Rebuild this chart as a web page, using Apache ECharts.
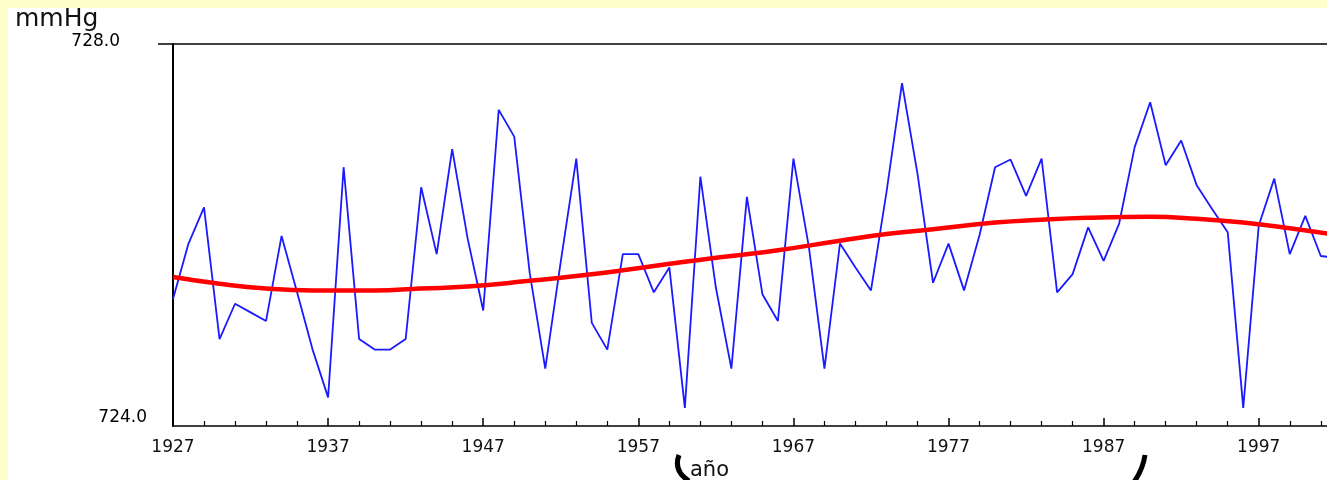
<!DOCTYPE html>
<html>
<head>
<meta charset="utf-8">
<title>Presión media anual</title>
<script src="https://cdn.jsdelivr.net/npm/echarts@6/dist/echarts.min.js"></script>
<style>
  html, body { margin: 0; padding: 0; background: #ffffcc; }
  #chart { width: 1327px; height: 480px; }
</style>
</head>
<body>
<div id="chart"></div>
<script>
// años y presión media anual (mmHg)
var years = [
  1927, 1928, 1929, 1930, 1931, 1932, 1933, 1934, 1935, 1936,
  1937, 1938, 1939, 1940, 1941, 1942, 1943, 1944, 1945, 1946,
  1947, 1948, 1949, 1950, 1951, 1952, 1953, 1954, 1955, 1956,
  1957, 1958, 1959, 1960, 1961, 1962, 1963, 1964, 1965, 1966,
  1967, 1968, 1969, 1970, 1971, 1972, 1973, 1974, 1975, 1976,
  1977, 1978, 1979, 1980, 1981, 1982, 1983, 1984, 1985, 1986,
  1987, 1988, 1989, 1990, 1991, 1992, 1993, 1994, 1995, 1996,
  1997, 1998, 1999, 2000, 2001, 2002
];
var presion = [
  725.33, 725.91, 726.29, 724.91, 725.28, 725.19, 725.10, 725.99, 725.40, 724.80,
  724.30, 726.71, 724.91, 724.80, 724.80, 724.91, 726.50, 725.80, 726.90, 725.96,
  725.21, 727.31, 727.03, 725.60, 724.60, 725.72, 726.80, 725.08, 724.80, 725.80,
  725.80, 725.40, 725.66, 724.19, 726.61, 725.45, 724.60, 726.40, 725.38, 725.10,
  726.80, 725.87, 724.60, 725.91, 725.66, 725.42, 726.45, 727.59, 726.64, 725.50,
  725.91, 725.42, 726.00, 726.71, 726.79, 726.41, 726.80, 725.40, 725.59, 726.08,
  725.73, 726.12, 726.92, 727.39, 726.73, 726.99, 726.52, 726.27, 726.03, 724.19,
  726.10, 726.59, 725.80, 726.20, 725.78, 725.76
];

// tendencia (curva roja)
var trendYears = [1927, 1930, 1933, 1936, 1940, 1943, 1946, 1950, 1953, 1956, 1960, 1963,
  1966, 1970, 1973, 1976, 1980, 1983, 1986, 1990, 1993, 1996, 1999, 2002];
var trendValues = [725.56, 725.49, 725.44, 725.42, 725.42, 725.44, 725.46, 725.52, 725.57, 725.63,
  725.72, 725.78, 725.84, 725.94, 726.01, 726.06, 726.13, 726.16, 726.18, 726.19, 726.17,
  726.13, 726.07, 726.00];

var majorTicks = [1927, 1937, 1947, 1957, 1967, 1977, 1987, 1997];
var yTicks = [724, 728];

var minorTicks = [];
for (var t = 1929; t <= 2001; t += 2) {
  if (majorTicks.indexOf(t) < 0) minorTicks.push(t);
}

var chart = echarts.init(document.getElementById('chart'));

var option = {
  backgroundColor: '#ffffcc',
  animation: false,
  textStyle: { fontFamily: 'DejaVu Sans', color: '#000' },
  title: [
    { text: 'mmHg', left: 15, top: 7, padding: 0,
      textStyle: { fontSize: 25, fontWeight: 'normal', color: '#111', fontFamily: 'DejaVu Sans' } },
    { text: 'año', left: 690, top: 460, padding: 0,
      textStyle: { fontSize: 21, fontWeight: 'normal', color: '#111', fontFamily: 'DejaVu Sans' } }
  ],
  graphic: [
    { type: 'rect', z: -1, silent: true,
      shape: { x: 8, y: 8, width: 1319, height: 472 },
      style: { fill: '#ffffff' } },
    { type: 'bezierCurve', silent: true,
      shape: { x1: 679, y1: 455, cpx1: 673, cpy1: 471, x2: 689, y2: 481 },
      style: { stroke: '#000', lineWidth: 5, fill: null } },
    { type: 'bezierCurve', silent: true,
      shape: { x1: 1145, y1: 455, cpx1: 1143, cpy1: 469, x2: 1134, y2: 482 },
      style: { stroke: '#000', lineWidth: 5, fill: null } }
  ],
  grid: { left: 173, right: 0, top: 44, bottom: 54, outerBoundsMode: 'none' },
  xAxis: [
    {
      type: 'value', min: 1927, max: 2001.4,
      axisLine: { show: true, lineStyle: { color: '#000', width: 1.5 } },
      axisTick: { show: true, inside: true, length: 8, customValues: majorTicks,
        lineStyle: { color: '#000', width: 1.5 } },
      axisLabel: { customValues: majorTicks, margin: 13, fontSize: 17, color: '#111',
        fontFamily: 'DejaVu Sans', formatter: function (v) { return String(v); } },
      splitLine: { show: false }
    },
    {
      type: 'value', min: 1927, max: 2001.4, position: 'bottom',
      axisLine: { show: false },
      axisTick: { show: true, inside: true, length: 5, customValues: minorTicks,
        lineStyle: { color: '#000', width: 1.2 } },
      axisLabel: { show: false },
      splitLine: { show: false }
    }
  ],
  yAxis: {
    type: 'value', min: 724, max: 728, interval: 4,
    axisLine: { show: true, lineStyle: { color: '#000', width: 2 } },
    axisTick: { show: true, length: 15, customValues: [728],
      lineStyle: { color: '#000', width: 1.5 } },
    splitLine: { show: true, lineStyle: { color: '#000', width: 1.5 } },
    axisLabel: {
      customValues: yTicks,
      margin: 26, fontSize: 17, color: '#111', fontFamily: 'DejaVu Sans',
      formatter: function (v) {
        return v === 728 ? '{t|' + v.toFixed(1) + '}' : '{b|' + v.toFixed(1) + '}';
      },
      rich: {
        t: { fontSize: 17, fontFamily: 'DejaVu Sans', padding: [0, 27, 4, 0] },
        b: { fontSize: 17, fontFamily: 'DejaVu Sans', padding: [0, 0, 16, 0] }
      }
    }
  },
  series: [
    {
      name: 'presión',
      type: 'line',
      showSymbol: false,
      data: years.map(function (y, i) { return [y, presion[i]]; }),
      lineStyle: { color: '#1a1aff', width: 1.8 },
      z: 2
    },
    {
      name: 'tendencia',
      type: 'line',
      showSymbol: false,
      smooth: 0.5,
      data: trendYears.map(function (y, i) { return [y, trendValues[i]]; }),
      lineStyle: { color: '#ff0000', width: 4.5 },
      z: 3
    }
  ]
};

chart.setOption(option);
</script>
</body>
</html>
